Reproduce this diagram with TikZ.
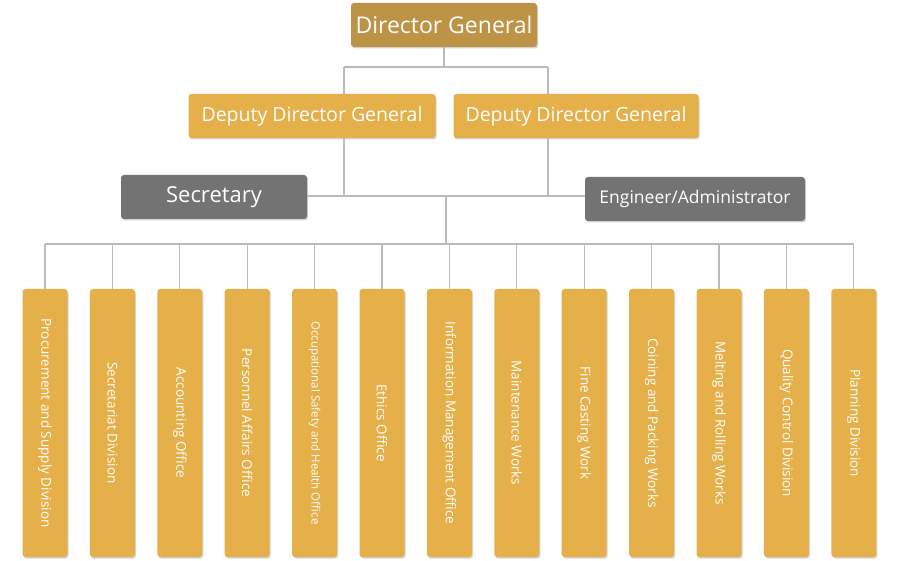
\documentclass[tikz,border=0pt]{standalone}
\usepackage{fontspec}
\setmainfont{Open Sans}
\usetikzlibrary{shadows}
\definecolor{dgGold}{HTML}{BD9446}
\definecolor{lightGold}{HTML}{E5B04A}
\definecolor{darkGray}{HTML}{737373}
\definecolor{lineGray}{HTML}{BBBBBB}
\tikzset{
  box/.style={rectangle, rounded corners=3pt, text=white, inner sep=0pt,
    drop shadow={shadow xshift=1pt, shadow yshift=-1.5pt, opacity=0.35}},
  unit/.style={box, fill=lightGold, minimum width=268pt, minimum height=45pt,
    font=\fontsize{13.5}{15}\selectfont, rotate=-90},
  link/.style={lineGray, line width=1.3pt}
}
\begin{document}
\begin{tikzpicture}[x=1pt, y=1pt]
			\useasboundingbox (0,0) rectangle (900,560);
			% Top levels
			\node[box, fill=dgGold, minimum width=186pt, minimum height=44pt, font=\fontsize{23}{26}\selectfont] (dg) at (444,535) {Director General};
			\node[box, fill=lightGold, minimum width=247pt, minimum height=44pt, font=\fontsize{19.5}{22}\selectfont] (ddg1) at (312,444) {Deputy Director General};
			\node[box, fill=lightGold, minimum width=245pt, minimum height=44pt, font=\fontsize{19.5}{22}\selectfont] (ddg2) at (576,444) {Deputy Director General};
			\node[box, fill=darkGray, minimum width=186pt, minimum height=44pt, font=\fontsize{22}{25}\selectfont] (sec) at (214,363) {Secretary};
			\node[box, fill=darkGray, minimum width=220pt, minimum height=44pt, font=\fontsize{17.5}{20}\selectfont] (eng) at (695,361) {Engineer/Administrator};

			% Units
			\foreach \name [count=\i] in {Procurement and Supply Division, Secretariat Division, Accounting Office, Personnel Affairs Office, {\fontsize{11.5}{13}\selectfont Occupational Safety and Health Office}, Ethics Office, Information Management Office, Maintenance Works, Fine Casting Work, Coining and Packing Works, Melting and Rolling Works, Quality Control Division, Planning Division}
			\node[unit] (u\i) at ({45+(\i-1)*67.4},137) {\name};

			% Connectors
			\coordinate (j1) at (344,493);
			\coordinate (j2) at (548,493);
			\coordinate (j3) at (344,364);
			\coordinate (j4) at (548,364);
			\coordinate (j5) at (446,364);
			\coordinate (j6) at (446,316);
			\draw[link] (dg.south) -- (dg.south |- j1);
			\draw[link] (j1) -- (j2);
			\draw[link] (j1) -- (j1 |- ddg1.north);
			\draw[link] (j2) -- (j2 |- ddg1.north);
			\draw[link] (j1 |- ddg1.south) -- (j3);
			\draw[link] (j2 |- ddg2.south) -- (j4);
			\draw[link] (sec.east |- j3) -- (eng.west |- j3);
			\draw[link] (j5) -- (j6);
			\draw[link] (u1.west |- j6) -- (u13.west |- j6);
			\foreach \i in {1,...,13}
			\draw[link] (u\i.west |- j6) -- (u\i.west);
\end{tikzpicture}
\end{document}
